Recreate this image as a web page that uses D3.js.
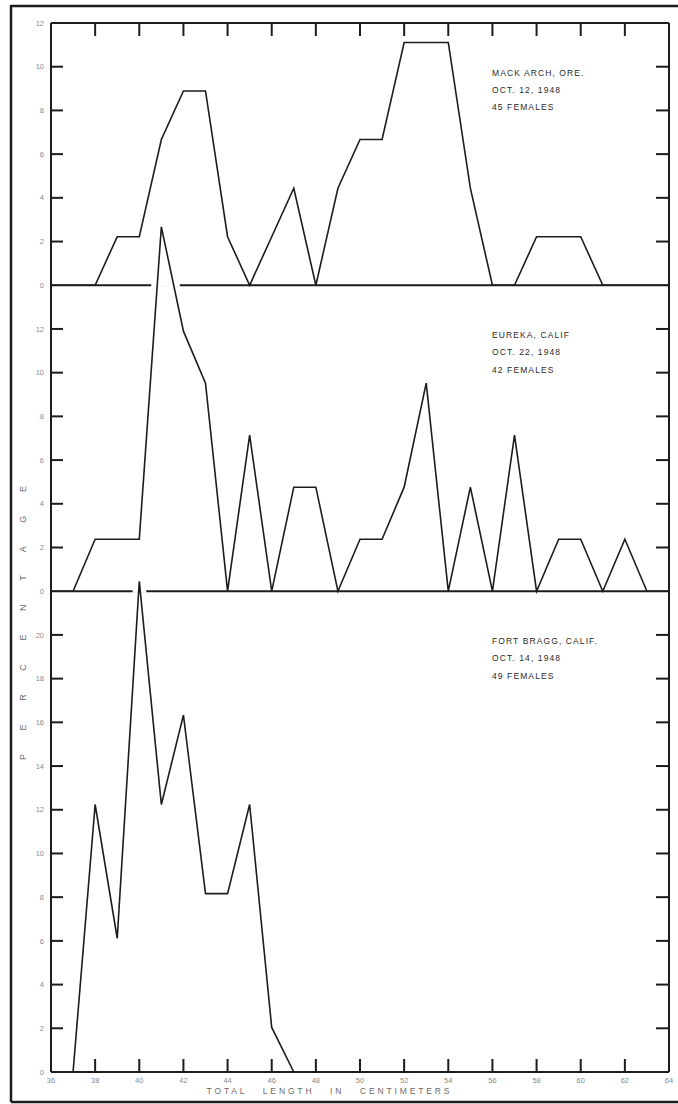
<!DOCTYPE html>
<html>
<head>
<meta charset="utf-8">
<script src="https://cdn.jsdelivr.net/npm/d3@7"></script>
<style>
  body { margin: 0; background: #fff; }
  svg { display: block; }
  text { font-family: "Liberation Sans", Arial, sans-serif; }
</style>
</head>
<body>
<svg width="678" height="1104"></svg>
<script>

// ======================= DATA =======================
// total length in cm, one value per cm from 36 to 64
const lengthsCm = [36,37,38,39,40,41,42,43,44,45,46,47,48,49,50,51,52,53,54,55,56,57,58,59,60,61,62,63,64];
const xTickLabels = [36,38,40,42,44,46,48,50,52,54,56,58,60,62,64];

// percent of females at each length
const mackArch  = [0,0,0,2.22,2.22,6.67,8.89,8.89,2.22,0,2.22,4.44,0,4.44,6.67,6.67,11.11,11.11,11.11,4.44,0,0,2.22,2.22,2.22,0,0,0,0];
const eureka    = [0,0,2.38,2.38,2.38,16.67,11.90,9.52,0,7.14,0,4.76,4.76,0,2.38,2.38,4.76,9.52,0,4.76,0,7.14,0,2.38,2.38,0,2.38,0,0];
const fortBragg = [0,0,12.24,6.12,22.45,12.24,16.33,8.16,8.16,12.24,2.04,0,null,null,null,null,null,null,null,null,null,null,null,null,null,null,null,null,null];

const panelLabels = [
  ["MACK ARCH, ORE.", "OCT. 12, 1948", "45 FEMALES"],
  ["EUREKA, CALIF", "OCT. 22, 1948", "42 FEMALES"],
  ["FORT BRAGG, CALIF.", "OCT. 14, 1948", "49 FEMALES"]
];
const panelMax = [12, 14, 22];            // y extent of each panel
const panelTickMax = [12, 12, 20];        // highest labelled tick

// ======================= LAYOUT =======================
const svg = d3.select("svg");
const plotLeft = 51, plotRight = 669, plotTop = 23, plotBottom = 1072;
const ink = "#1c1c1c";

const x = d3.scaleLinear().domain([36, 64]).range([plotLeft, plotRight]);
const unit = (plotBottom - plotTop) / d3.sum(panelMax);

// build one y scale for every panel, stacked top to bottom
let cursor = plotTop;
const panels = [mackArch, eureka, fortBragg].map((values, i) => {
  const y0 = cursor, y1 = cursor + panelMax[i] * unit;
  cursor = y1;
  return {
    values: values,
    top: y0,
    base: y1,
    y: d3.scaleLinear().domain([0, panelMax[i]]).range([y1, y0]),
    labels: panelLabels[i],
    tickMax: panelTickMax[i],
    max: panelMax[i]
  };
});

// outer frame
svg.append("path")
  .attr("d", "M11,6 H690 M11,5 V1102 M11,1102 H690")
  .attr("fill", "none").attr("stroke", ink).attr("stroke-width", 2.5);

// ======================= AXES =======================
// left & right vertical lines, top line
svg.append("path")
  .attr("d", `M${plotLeft},${plotTop} V${plotBottom} M${plotRight},${plotTop} V${plotBottom} M${plotLeft},${plotTop} H${plotRight}`)
  .attr("fill", "none").attr("stroke", ink).attr("stroke-width", 2);

panels.forEach((p, i) => {
  const ticks = d3.range(0, p.tickMax + 1, 2);

  // inward ticks on the left with labels
  const lg = svg.append("g").attr("transform", `translate(${plotLeft},0)`);
  lg.selectAll("line").data(ticks.filter(t => t > 0)).enter().append("line")
    .attr("x1", 0).attr("x2", 12)
    .attr("y1", d => p.y(d)).attr("y2", d => p.y(d))
    .attr("stroke", ink).attr("stroke-width", 2);
  lg.selectAll("text").data(ticks).enter().append("text")
    .attr("x", -7).attr("y", d => p.y(d)).attr("dy", "0.35em")
    .attr("text-anchor", "end")
    .attr("font-size", 7.5).attr("fill", "#8a8a8a")
    .text(d => d);

  // inward ticks on the right, no labels
  svg.append("g").selectAll("line").data(ticks.filter(t => t > 0 && t < p.max)).enter().append("line")
    .attr("x1", plotRight - 13).attr("x2", plotRight)
    .attr("y1", d => p.y(d)).attr("y2", d => p.y(d))
    .attr("stroke", ink).attr("stroke-width", 2);
});

// x ticks at top (pointing down) and bottom (pointing up)
const innerTicks = xTickLabels.filter(d => d > 36 && d < 64);
svg.append("g").selectAll("line").data(innerTicks).enter().append("line")
  .attr("x1", d => x(d)).attr("x2", d => x(d))
  .attr("y1", plotTop).attr("y2", plotTop + 13)
  .attr("stroke", ink).attr("stroke-width", 2);
svg.append("g").selectAll("line").data(innerTicks).enter().append("line")
  .attr("x1", d => x(d)).attr("x2", d => x(d))
  .attr("y1", plotBottom - 13).attr("y2", plotBottom)
  .attr("stroke", ink).attr("stroke-width", 2);

svg.append("g").selectAll("text").data(xTickLabels).enter().append("text")
  .attr("x", d => x(d)).attr("y", plotBottom + 10.5)
  .attr("text-anchor", "middle")
  .attr("font-size", 7.5).attr("fill", "#8a8a8a")
  .text(d => d);

svg.append("text")
  .attr("x", 206.5).attr("y", 1094)
  .attr("textLength", 243).attr("lengthAdjust", "spacing")
  .attr("font-size", 8.5).attr("fill", "#6a6a6a")
  .style("white-space", "pre")
  .text("TOTAL   LENGTH   IN   CENTIMETERS");

svg.append("text")
  .attr("transform", "translate(23,760) rotate(-90)")
  .attr("dy", "0.35em")
  .attr("textLength", 274).attr("lengthAdjust", "spacing")
  .attr("font-size", 9).attr("fill", "#6a6a6a")
  .text("PERCENTAGE");

// ======================= BASELINES + LINES =======================
const clip = svg.append("defs");
panels.forEach((p, i) => {
  // zero line of each panel (bottom one is the x axis)
  svg.append("line")
    .attr("x1", plotLeft).attr("x2", plotRight)
    .attr("y1", p.base).attr("y2", p.base)
    .attr("stroke", ink).attr("stroke-width", 2);

  clip.append("clipPath").attr("id", "above" + i)
    .append("rect").attr("x", 0).attr("y", 0).attr("width", 678).attr("height", p.top + 1.5);
});

const lineFor = p => d3.line()
  .defined(d => d != null)
  .x((d, j) => x(lengthsCm[j]))
  .y(d => p.y(d));

const areaFor = p => d3.area()
  .defined(d => d != null)
  .x((d, j) => x(lengthsCm[j]))
  .y0(p.base)
  .y1(d => p.y(d));

// white gap where a peak breaks through the panel above
panels.forEach((p, i) => {
  if (i === 0) return;
  const gap = svg.append("g").attr("clip-path", `url(#above${i})`);
  gap.append("path")
    .attr("d", areaFor(p)(p.values))
    .attr("fill", "#fff");
  gap.append("path")
    .attr("d", lineFor(p)(p.values))
    .attr("fill", "none").attr("stroke", "#fff")
    .attr("stroke-width", 12).attr("stroke-linejoin", "round");
});

panels.forEach(p => {
  svg.append("path")
    .attr("d", lineFor(p)(p.values))
    .attr("fill", "none").attr("stroke", ink)
    .attr("stroke-width", 1.6).attr("stroke-linejoin", "miter");

  svg.append("g").selectAll("text").data(p.labels).enter().append("text")
    .attr("x", 492)
    .attr("y", (d, k) => p.top + 53 + k * 17.2)
    .attr("font-size", 8.5).attr("letter-spacing", 1.1)
    .attr("fill", "#2a2a2a")
    .text(d => d);
});

</script>
</body>
</html>
